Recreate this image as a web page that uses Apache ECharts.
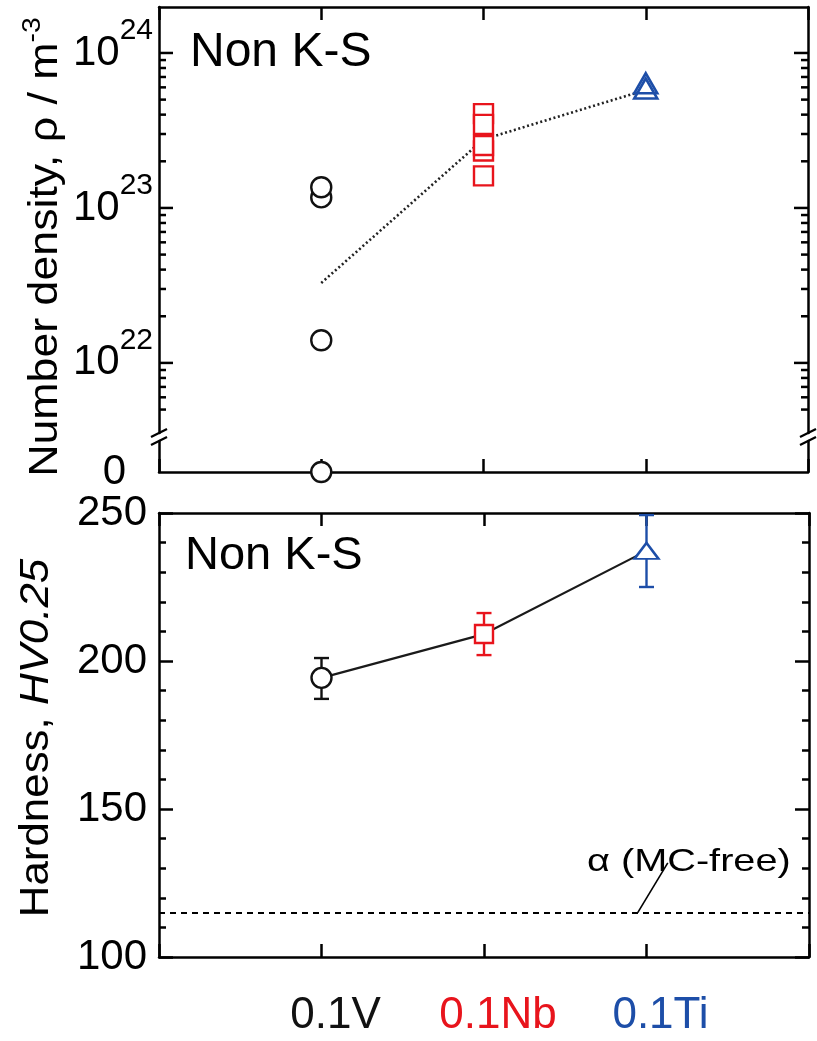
<!DOCTYPE html>
<html>
<head>
<meta charset="utf-8">
<script src="https://cdn.jsdelivr.net/npm/echarts@6/dist/echarts.min.js"></script>
<style>
  html, body { margin: 0; padding: 0; background: #fff; }
  #chart { width: 817px; height: 1041px; }
</style>
</head>
<body>
<div id="chart"></div>
<script>
// Alloys placed at x = 1, 2, 3 on every panel
const alloys = ['0.1V', '0.1Nb', '0.1Ti'];
const alloyColors = ['#111111', '#e8141c', '#1d4ea8'];

// Number density of MC precipitates (m^-3), individual measurements
const densityV = [1.4e22, 1.17e23, 1.36e23];
const densityVZero = [0];
const densityNb = [4.06e23, 3.46e23, 2.33e23, 2.53e23, 1.61e23];
const densityTi = [5.9e23, 6.37e23];
// Mean number density per alloy (dotted trend line)
const densityMean = [3.28e22, 2.77e23, 5.77e23];

// Log-axis decades and minor tick multipliers
const decadeExponents = [22, 23, 24];
const minorMultipliers = [2, 3, 4, 5, 6, 7, 8, 9];
const minorExponents = [21, 22, 23];
const logAxisMin = 3.53e21;
const logAxisMax = 1.98e24;

// Vickers hardness HV0.25: mean and error-bar limits
const hardnessMean = [194.3, 209.1, 237.2];
const hardnessLow = [187.2, 202.0, 225.0];
const hardnessHigh = [201.0, 216.2, 249.3];
// Hardness of MC-free ferrite (alpha)
const hardnessAlpha = 115;
const hardnessTicks = [100, 150, 200, 250];

const FONT = '"Liberation Sans", Arial, Helvetica, sans-serif';
const AXIS_W = 2.5;

// tick list for the log panel: [value, tick length]
const logTicks = [];
decadeExponents.forEach(e => logTicks.push([Math.pow(10, e), 14]));
minorExponents.forEach(e => minorMultipliers.forEach(m => {
  const v = m * Math.pow(10, e);
  if (v >= 5e21 && v < logAxisMax) logTicks.push([v, 7]);
}));

function xAxisCfg(gridIndex, position, withLabels) {
  const cfg = {
    type: 'value', gridIndex, position, min: 0, max: 4, interval: 1,
    splitLine: { show: false },
    axisLine: { show: true, onZero: false, lineStyle: { color: '#000', width: AXIS_W } },
    axisTick: { show: true, inside: true, length: 13, lineStyle: { color: '#000', width: AXIS_W } },
    axisLabel: { show: false }
  };
  if (withLabels) {
    const rich = {};
    alloyColors.forEach((c, i) => { rich['c' + i] = { color: c, fontSize: 44, fontFamily: FONT }; });
    cfg.axisLabel = {
      show: true, margin: 37, padding: [0, 0, 0, 28],
      formatter: v => {
        const i = Math.round(v) - 1;
        return (i >= 0 && i < alloys.length) ? '{c' + i + '|' + alloys[i] + '}' : '';
      },
      rich
    };
  }
  return cfg;
}

function plainYAxis(gridIndex, position, min, max) {
  return {
    type: 'value', gridIndex, position, min, max,
    splitLine: { show: false },
    axisLine: { show: true, onZero: false, lineStyle: { color: '#000', width: AXIS_W } },
    axisTick: { show: false },
    axisLabel: { show: false }
  };
}

const chart = echarts.init(document.getElementById('chart'), null, { renderer: 'canvas' });

const markerStyle = (border, fill) => ({ color: fill, borderColor: border, borderWidth: 2.4, opacity: 1 });

const option = {
  backgroundColor: '#fff',
  animation: false,
  grid: [
    { left: 159, right: 9, top: 7, height: 426 },     // log density
    { left: 159, right: 9, top: 441, height: 31 },    // zero strip below the break
    { left: 159, right: 8, top: 513, height: 444 }    // hardness
  ],
  xAxis: [
    xAxisCfg(0, 'top', false),
    xAxisCfg(1, 'bottom', false),
    xAxisCfg(2, 'bottom', true),
    xAxisCfg(2, 'top', false)
  ],
  yAxis: [
    {
      type: 'log', gridIndex: 0, position: 'left', logBase: 10,
      min: logAxisMin, max: logAxisMax,
      splitLine: { show: false },
      axisLine: { show: true, onZero: false, lineStyle: { color: '#000', width: AXIS_W } },
      axisTick: { show: false },
      minorTick: { show: false },
      axisLabel: {
        margin: 6,
        showMinLabel: false, showMaxLabel: false,
        formatter: v => {
          const e = Math.log10(v);
          const r = Math.round(e);
          return Math.abs(e - r) < 1e-6 ? '{b|10}{s|' + r + '}' : '';
        },
        rich: {
          b: { fontSize: 42, fontFamily: FONT, color: '#000' },
          s: { fontSize: 30, fontFamily: FONT, color: '#000', padding: [0, 0, 44, 0] }
        }
      }
    },
    plainYAxis(0, 'right', 0, 1),
    {
      type: 'value', gridIndex: 1, position: 'left', min: 0, max: 1, interval: 1,
      splitLine: { show: false },
      axisLine: { show: true, onZero: false, lineStyle: { color: '#000', width: AXIS_W } },
      axisTick: { show: false },
      axisLabel: {
        margin: 33, fontSize: 42, fontFamily: FONT, color: '#000',
        formatter: v => (v === 0 ? '0' : '')
      }
    },
    plainYAxis(1, 'right', 0, 1),
    {
      type: 'value', gridIndex: 2, position: 'left', min: 100, max: 250, interval: 50,
      splitLine: { show: false },
      axisLine: { show: true, onZero: false, lineStyle: { color: '#000', width: AXIS_W } },
      axisTick: { show: true, inside: true, length: 14, lineStyle: { color: '#000', width: AXIS_W } },
      minorTick: { show: true, splitNumber: 5, length: 7, lineStyle: { color: '#000', width: AXIS_W } },
      axisLabel: {
        margin: 12, fontSize: 42, fontFamily: FONT, color: '#000',
        formatter: v => (hardnessTicks.indexOf(v) >= 0 ? String(v) : '')
      }
    },
    {
      type: 'value', gridIndex: 2, position: 'right', min: 100, max: 250, interval: 50,
      splitLine: { show: false },
      axisLine: { show: true, onZero: false, lineStyle: { color: '#000', width: AXIS_W } },
      axisTick: { show: true, inside: true, length: 14, lineStyle: { color: '#000', width: AXIS_W } },
      minorTick: { show: true, splitNumber: 5, length: 7, lineStyle: { color: '#000', width: AXIS_W } },
      axisLabel: { show: false }
    }
  ],
  series: [
    // major and minor ticks of the log axis, on both left and right frame edges
    {
      type: 'custom', xAxisIndex: 0, yAxisIndex: 0, z: 1, silent: true,
      encode: { x: 0, y: 1 },
      data: logTicks.map(t => [0, t[0], t[1]]),
      renderItem: (params, api) => {
        const v = api.value(1);
        const len = api.value(2);
        const l = api.coord([0, v]);
        const r = api.coord([4, v]);
        const st = { stroke: '#000', lineWidth: AXIS_W };
        return {
          type: 'group',
          children: [
            { type: 'line', shape: { x1: l[0], y1: l[1], x2: l[0] + len, y2: l[1] }, style: st },
            { type: 'line', shape: { x1: r[0] - len, y1: r[1], x2: r[0], y2: r[1] }, style: st }
          ]
        };
      }
    },
    // dotted trend through the mean densities
    {
      type: 'line', xAxisIndex: 0, yAxisIndex: 0, z: 2, silent: true,
      symbol: 'none',
      data: densityMean.map((v, i) => [i + 1, v]),
      lineStyle: { color: '#222', width: 2.6, type: [2, 2.6] }
    },
    {
      type: 'scatter', xAxisIndex: 0, yAxisIndex: 0, z: 3, clip: false,
      symbol: 'circle', symbolSize: 20,
      data: densityV.map(v => [1, v]),
      itemStyle: markerStyle(alloyColors[0], '#fff')
    },
    {
      type: 'scatter', xAxisIndex: 1, yAxisIndex: 2, z: 3, clip: false,
      symbol: 'circle', symbolSize: 20,
      data: densityVZero.map(v => [1, v]),
      itemStyle: markerStyle(alloyColors[0], '#fff')
    },
    {
      type: 'scatter', xAxisIndex: 0, yAxisIndex: 0, z: 3, clip: false,
      symbol: 'rect', symbolSize: 19,
      data: densityNb.map(v => [2, v]),
      itemStyle: markerStyle(alloyColors[1], '#fff')
    },
    {
      type: 'scatter', xAxisIndex: 0, yAxisIndex: 0, z: 3, clip: false,
      symbol: 'triangle', symbolSize: [23, 20],
      data: densityTi.map((v, i) => ({
        value: [3, v],
        itemStyle: { color: i === 0 ? '#fff' : 'rgba(255,255,255,0)' }
      })),
      itemStyle: { borderColor: alloyColors[2], borderWidth: 2.6, opacity: 1 }
    },
    // hardness trend and alpha reference level
    {
      type: 'line', xAxisIndex: 2, yAxisIndex: 4, z: 2, silent: true,
      symbol: 'none',
      data: hardnessMean.map((v, i) => [i + 1, v]),
      lineStyle: { color: '#1a1a1a', width: 2.2 },
      markLine: {
        silent: true, symbol: 'none', label: { show: false },
        lineStyle: { color: '#000', width: 2, type: [6, 5] },
        data: [{ yAxis: hardnessAlpha }]
      }
    },
    // error bars
    {
      type: 'custom', xAxisIndex: 2, yAxisIndex: 4, z: 3, silent: true,
      encode: { x: 0, y: [1, 2] },
      data: hardnessMean.map((m, i) => [i + 1, hardnessLow[i], hardnessHigh[i]]),
      renderItem: (params, api) => {
        const x = api.value(0);
        const lo = api.coord([x, api.value(1)]);
        const hi = api.coord([x, api.value(2)]);
        const half = 7.5;
        const st = { stroke: alloyColors[params.dataIndex], lineWidth: 2.4 };
        return {
          type: 'group',
          children: [
            { type: 'line', shape: { x1: lo[0], y1: lo[1], x2: hi[0], y2: hi[1] }, style: st },
            { type: 'line', shape: { x1: lo[0] - half, y1: lo[1], x2: lo[0] + half, y2: lo[1] }, style: st },
            { type: 'line', shape: { x1: hi[0] - half, y1: hi[1], x2: hi[0] + half, y2: hi[1] }, style: st }
          ]
        };
      }
    },
    {
      type: 'scatter', xAxisIndex: 2, yAxisIndex: 4, z: 4, clip: false,
      data: [
        { value: [1, hardnessMean[0]], symbol: 'circle', symbolSize: 20, itemStyle: { borderColor: alloyColors[0] } },
        { value: [2, hardnessMean[1]], symbol: 'rect', symbolSize: 18, itemStyle: { borderColor: alloyColors[1] } },
        { value: [3, hardnessMean[2]], symbol: 'triangle', symbolSize: [24, 16], itemStyle: { borderColor: alloyColors[2] } }
      ],
      itemStyle: { color: '#fff', borderWidth: 2.4, opacity: 1 }
    },
    // leader from the alpha label down to the reference line
    {
      type: 'custom', xAxisIndex: 2, yAxisIndex: 4, z: 3, silent: true,
      encode: { x: 0, y: 1 },
      data: [[2.946, hardnessAlpha, 3.131, 131.8]],
      renderItem: (params, api) => {
        const a = api.coord([api.value(0), api.value(1)]);
        const b = api.coord([api.value(2), api.value(3)]);
        return { type: 'line', shape: { x1: a[0], y1: a[1], x2: b[0], y2: b[1] }, style: { stroke: '#000', lineWidth: 1.6 } };
      }
    }
  ],
  graphic: [
    // axis-break marks on the density panel
    { type: 'line', shape: { x1: 151, y1: 437, x2: 167, y2: 429 }, style: { stroke: '#000', lineWidth: 2.2 } },
    { type: 'line', shape: { x1: 151, y1: 445, x2: 167, y2: 437 }, style: { stroke: '#000', lineWidth: 2.2 } },
    { type: 'line', shape: { x1: 800, y1: 437, x2: 816, y2: 429 }, style: { stroke: '#000', lineWidth: 2.2 } },
    { type: 'line', shape: { x1: 800, y1: 445, x2: 816, y2: 437 }, style: { stroke: '#000', lineWidth: 2.2 } },
    // panel annotations
    {
      type: 'text', x: 190, y: 53,
      style: { text: 'Non K-S', fontSize: 48, fontFamily: FONT, fill: '#000',
               align: 'left', verticalAlign: 'middle', textAlign: 'left', textVerticalAlign: 'middle' }
    },
    {
      type: 'text', x: 185, y: 556,
      style: { text: 'Non K-S', fontSize: 47, fontFamily: FONT, fill: '#000',
               align: 'left', verticalAlign: 'middle', textAlign: 'left', textVerticalAlign: 'middle' }
    },
    {
      type: 'text', x: 587, y: 862, scaleX: 1.24,
      style: { text: 'α (MC-free)', fontSize: 32, fontFamily: FONT, fill: '#000',
               align: 'left', verticalAlign: 'middle', textAlign: 'left', textVerticalAlign: 'middle' }
    },
    // axis titles
    {
      type: 'text', x: 46, y: 247, rotation: Math.PI / 2, scaleX: 1.09,
      style: {
        text: '{a|Number density, ρ / m}{s|-3}',
        align: 'center', verticalAlign: 'middle', textAlign: 'center', textVerticalAlign: 'middle',
        rich: {
          a: { fontSize: 41, fontFamily: FONT, fill: '#000', color: '#000' },
          s: { fontSize: 26, fontFamily: FONT, fill: '#000', color: '#000', padding: [0, 0, 26, 0] }
        }
      }
    },
    {
      type: 'text', x: 37, y: 738, rotation: Math.PI / 2, scaleX: 1.07,
      style: {
        text: '{a|Hardness, }{i|HV0.25}',
        align: 'center', verticalAlign: 'middle', textAlign: 'center', textVerticalAlign: 'middle',
        rich: {
          a: { fontSize: 41, fontFamily: FONT, fill: '#000', color: '#000' },
          i: { fontSize: 41, fontFamily: FONT, fontStyle: 'italic', fill: '#000', color: '#000' }
        }
      }
    }
  ]
};

chart.setOption(option);
</script>
</body>
</html>
